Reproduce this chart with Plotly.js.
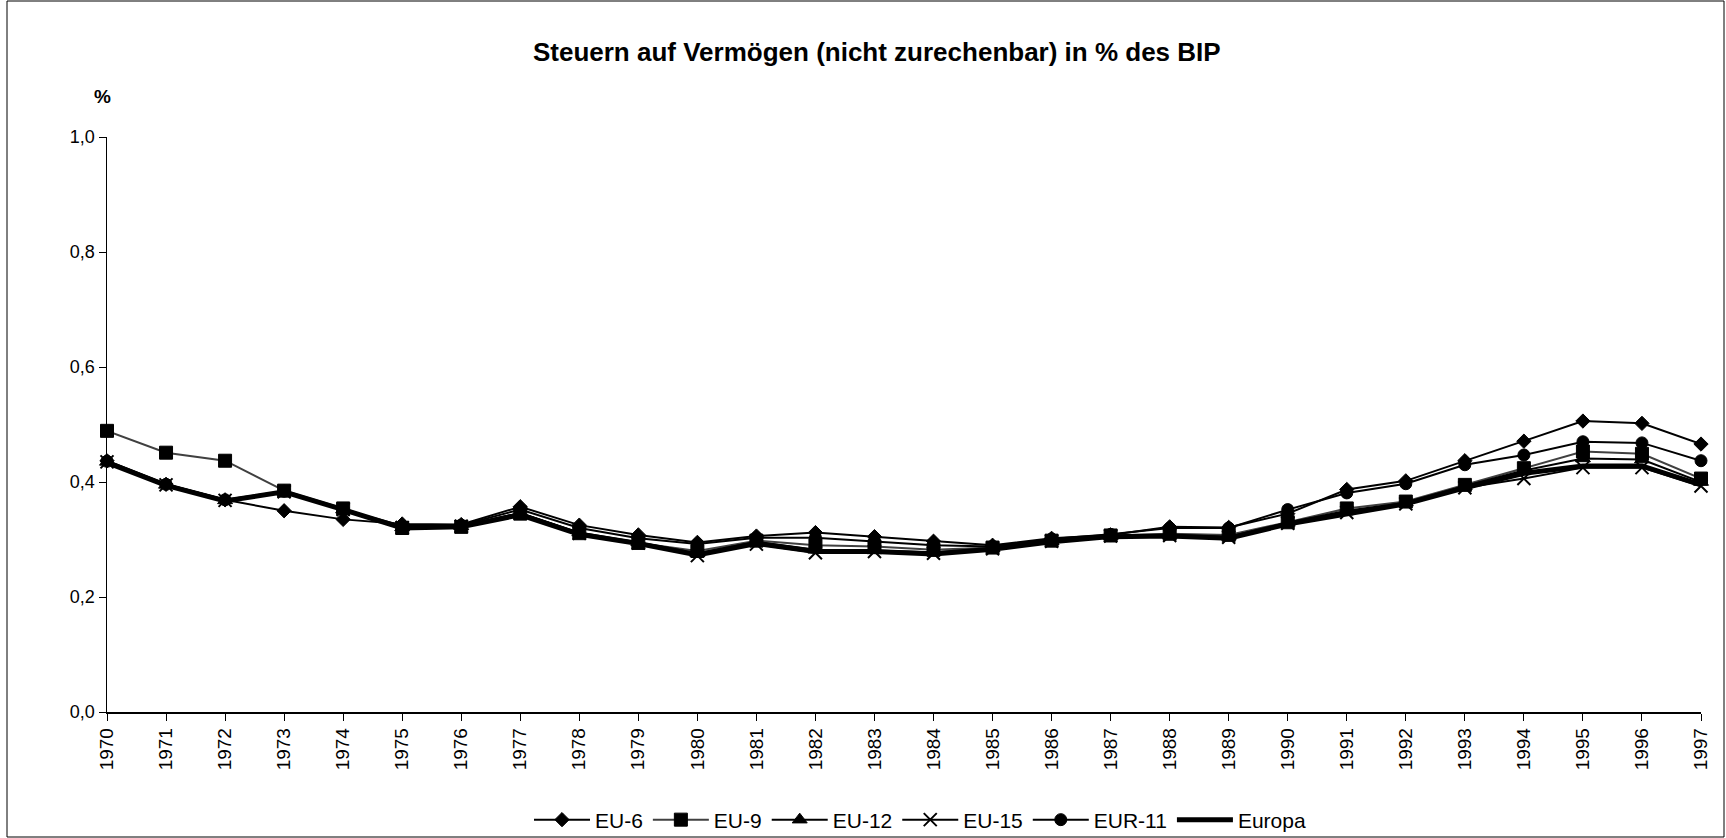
<!DOCTYPE html>
<html>
<head>
<meta charset="utf-8">
<script src="https://cdn.plot.ly/plotly-3.0.1.min.js"></script>
<style>
  html, body { margin: 0; padding: 0; background: #fff; }
  #chart { width: 1726px; height: 838px; }
</style>
</head>
<body>
<div id="chart"></div>
<script>
// Steuern auf Vermögen (nicht zurechenbar), Anteil am BIP in %
const years = [1970, 1971, 1972, 1973, 1974, 1975, 1976, 1977, 1978, 1979,
               1980, 1981, 1982, 1983, 1984, 1985, 1986, 1987, 1988, 1989,
               1990, 1991, 1992, 1993, 1994, 1995, 1996, 1997];

const eu6 = [0.437, 0.396, 0.369, 0.350, 0.335, 0.327, 0.326, 0.357, 0.325, 0.308,
             0.295, 0.306, 0.312, 0.305, 0.297, 0.290, 0.302, 0.308, 0.322, 0.321,
             0.345, 0.387, 0.402, 0.437, 0.471, 0.506, 0.502, 0.466];

const eu9 = [0.489, 0.451, 0.437, 0.385, 0.354, 0.320, 0.322, 0.345, 0.311, 0.294,
             0.280, 0.298, 0.290, 0.288, 0.282, 0.286, 0.298, 0.307, 0.310, 0.308,
             0.330, 0.354, 0.366, 0.395, 0.424, 0.453, 0.449, 0.406];

const eu12 = [0.435, 0.395, 0.368, 0.383, 0.352, 0.321, 0.323, 0.346, 0.312, 0.295,
              0.276, 0.296, 0.282, 0.281, 0.278, 0.285, 0.297, 0.306, 0.308, 0.305,
              0.329, 0.350, 0.364, 0.393, 0.420, 0.441, 0.439, 0.400];

const eu15 = [0.435, 0.395, 0.368, 0.383, 0.352, 0.321, 0.323, 0.346, 0.311, 0.294,
              0.272, 0.292, 0.277, 0.279, 0.276, 0.284, 0.297, 0.306, 0.307, 0.304,
              0.328, 0.347, 0.362, 0.390, 0.406, 0.425, 0.425, 0.393];

const eur11 = [0.436, 0.396, 0.369, 0.384, 0.352, 0.324, 0.325, 0.352, 0.320, 0.302,
               0.292, 0.303, 0.303, 0.297, 0.290, 0.288, 0.301, 0.309, 0.320, 0.320,
               0.352, 0.381, 0.397, 0.430, 0.447, 0.470, 0.468, 0.437];

const europa = [0.434, 0.394, 0.367, 0.383, 0.352, 0.320, 0.322, 0.343, 0.309, 0.293,
                0.273, 0.293, 0.279, 0.279, 0.275, 0.283, 0.296, 0.305, 0.306, 0.302,
                0.327, 0.345, 0.362, 0.390, 0.415, 0.428, 0.428, 0.395];

const yTicks = [0, 0.2, 0.4, 0.6, 0.8, 1.0];
const yearLabels = years.map(String);

const FONT = 'Liberation Sans, Arial, sans-serif';

// plot area in pixels
const W = 1726, H = 838;
const M = { l: 107, r: 25, t: 137, b: 126, autoexpand: false };
const PW = W - M.l - M.r, PH = H - M.t - M.b;
const px = x => (x - M.l) / PW;
const py = y => (H - M.b - y) / PH;

function series(name, y, symbol, opts) {
  opts = opts || {};
  const t = {
    type: 'scatter', mode: symbol ? 'lines+markers' : 'lines',
    name: name, x: years, y: y, cliponaxis: false,
    line: { color: opts.lineColor || '#000', width: opts.width || 2 }
  };
  if (symbol) {
    t.marker = {
      symbol: symbol, size: opts.size || 11, color: '#000',
      line: { color: '#000', width: opts.mlw || 1 }
    };
  }
  return t;
}

const traces = [
  series('EU-6', eu6, 'diamond', { size: 11 }),
  series('EU-9', eu9, 'square', { size: 13, lineColor: '#404040' }),
  series('EU-12', eu12, 'triangle-up', { size: 13 }),
  series('EU-15', eu15, 'x-thin-open', { size: 13, mlw: 2 }),
  series('EUR-11', eur11, 'circle', { size: 12 }),
  series('Europa', europa, null, { width: 5 })
];

const layout = {
  width: W, height: H,
  margin: M,
  paper_bgcolor: '#fff', plot_bgcolor: '#fff',
  separators: ',.',
  font: { family: FONT, size: 18, color: '#000' },
  title: {
    text: '<b>Steuern auf Vermögen (nicht zurechenbar) in % des BIP</b>',
    font: { family: FONT, size: 26, color: '#000' },
    xref: 'container', x: 0.508, xanchor: 'center',
    yref: 'container', y: 1 - 52 / H, yanchor: 'middle'
  },
  xaxis: {
    range: [1970, 1997],
    tickmode: 'array', tickvals: years, ticktext: yearLabels,
    tickangle: -90,
    ticks: 'outside', ticklen: 7, tickwidth: 1, tickcolor: '#000',
    showline: true, linecolor: '#000', linewidth: 1.5,
    showgrid: false, zeroline: false,
    tickfont: { family: FONT, size: 19, color: '#000' }
  },
  yaxis: {
    range: [0, 1],
    tickmode: 'array', tickvals: yTicks,
    tickformat: '.1f',
    ticks: 'outside', ticklen: 7, tickwidth: 1, tickcolor: '#000',
    showline: true, linecolor: '#000', linewidth: 1.5,
    showgrid: false, zeroline: false,
    tickfont: { family: FONT, size: 18, color: '#000' }
  },
  showlegend: true,
  legend: {
    orientation: 'h',
    xref: 'paper', x: px(920), xanchor: 'center',
    yref: 'paper', y: py(820), yanchor: 'middle',
    font: { family: FONT, size: 21, color: '#000' },
    itemwidth: 56, tracegroupgap: 0,
    bgcolor: 'rgba(0,0,0,0)'
  },
  annotations: [{
    text: '<b>%</b>', showarrow: false,
    xref: 'paper', yref: 'paper',
    x: px(102), y: py(97), xanchor: 'center', yanchor: 'middle',
    font: { family: FONT, size: 19, color: '#000' }
  }],
  shapes: [{
    type: 'rect', xref: 'paper', yref: 'paper',
    x0: px(7), x1: px(1724), y0: py(837), y1: py(1),
    line: { color: '#000', width: 1 }, fillcolor: 'rgba(0,0,0,0)', layer: 'below'
  }]
};

Plotly.newPlot('chart', traces, layout, { staticPlot: true, displayModeBar: false });
</script>
</body>
</html>
